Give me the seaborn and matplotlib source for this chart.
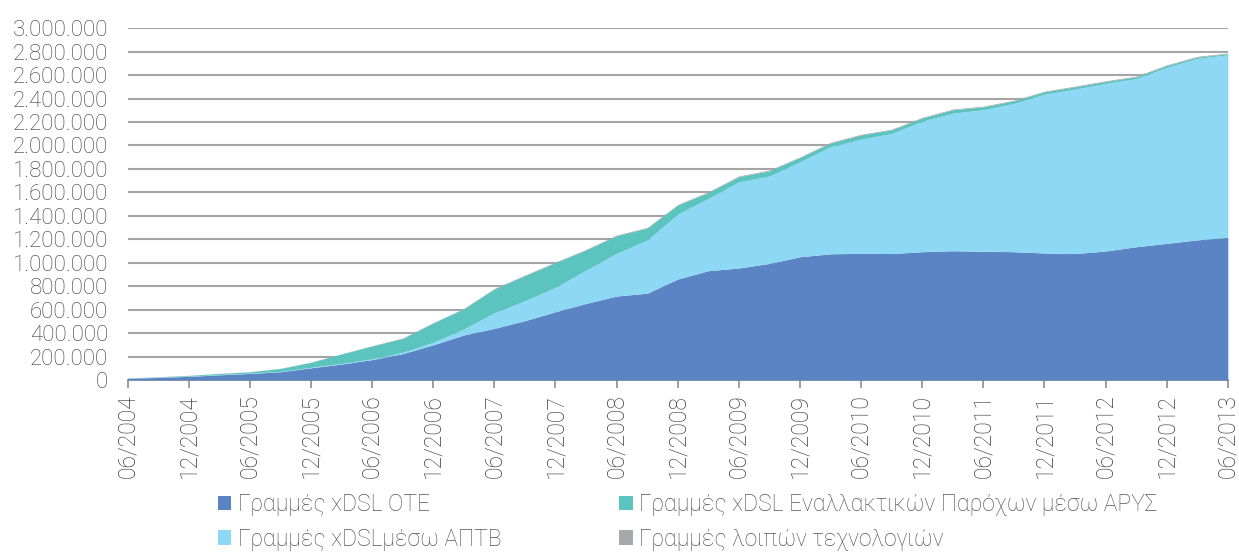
import numpy as np
import pandas as pd
import matplotlib
matplotlib.use("Agg")
import matplotlib.pyplot as plt
import seaborn as sns
from matplotlib.ticker import FuncFormatter

# quarterly observations 06/2004 .. 06/2013
periods = ["06/2004", "09/2004", "12/2004", "03/2005", "06/2005", "09/2005",
           "12/2005", "03/2006", "06/2006", "09/2006", "12/2006", "03/2007",
           "06/2007", "09/2007", "12/2007", "03/2008", "06/2008", "09/2008",
           "12/2008", "03/2009", "06/2009", "09/2009", "12/2009", "03/2010",
           "06/2010", "09/2010", "12/2010", "03/2011", "06/2011", "09/2011",
           "12/2011", "03/2012", "06/2012", "09/2012", "12/2012", "03/2013",
           "06/2013"]

# values in thousands of lines
ote = [14, 22, 31, 44, 56, 70, 104, 136, 174, 225, 300, 384, 440, 506, 582,
       653, 716, 740, 861, 932, 955, 994, 1051, 1076, 1080, 1078, 1094, 1102,
       1098, 1094, 1083, 1078, 1100, 1136, 1165, 1195, 1216]
aptb = [1, 2, 2, 3, 3, 3, 4, 5, 6, 11, 22, 51, 134, 170, 208, 284, 364, 453,
        554, 616, 735, 745, 810, 913, 974, 1024, 1112, 1173, 1207, 1264, 1354,
        1402, 1428, 1434, 1500, 1547, 1556]
arys = [2, 3, 6, 9, 11, 25, 43, 81, 110, 119, 165, 172, 203, 215, 211, 172,
        151, 103, 77, 51, 44, 45, 36, 32, 35, 31, 28, 29, 24, 22, 20, 20, 17,
        15, 16, 12, 10]
other = [1, 1, 1, 1, 1, 2, 2, 2, 3, 3, 3, 4, 4, 4, 5, 5, 5, 5, 5, 6, 6, 6, 6,
         6, 6, 6, 6, 6, 6, 6, 6, 6, 6, 6, 6, 6, 6]

labels = ["Γραμμές xDSL OTE",
          "Γραμμές xDSLμέσω ΑΠΤΒ",
          "Γραμμές xDSL Εναλλακτικών Παρόχων μέσω ΑΡΥΣ",
          "Γραμμές λοιπών τεχνολογιών"]
colors = ["#5B84C4", "#8DD8F5", "#5CC4BF", "#A7A8AB"]

df = pd.DataFrame({labels[0]: ote, labels[1]: aptb,
                   labels[2]: arys, labels[3]: other}, index=periods) * 1000

sns.set_theme(style="white")
plt.rcParams["font.family"] = ["Roboto", "DejaVu Sans"]

fig = plt.figure(figsize=(12.39, 5.52), dpi=100)
ax = fig.add_axes([0.103, 0.3116, 0.888, 0.6374])

x = np.arange(len(df))
ax.stackplot(x, [df[c].values for c in labels], colors=colors,
             labels=labels, linewidth=0, zorder=3)

ax.set_xlim(0, len(df) - 1)
ax.set_ylim(0, 3000000)
ax.set_yticks(np.arange(0, 3000001, 200000))
ax.yaxis.set_major_formatter(
    FuncFormatter(lambda v, p: f"{int(v):,}".replace(",", ".")))
ax.grid(axis="y", color="#A5A5A5", linewidth=1.5, zorder=0)
ax.grid(axis="x", visible=False)

tick_idx = x[::2]
ax.set_xticks(tick_idx)
ax.set_xticklabels([periods[i] for i in tick_idx], rotation=90)
ax.tick_params(axis="x", direction="out", length=6, width=1.2,
               color="#8C8C8C", labelsize=16.5, labelcolor="#3A3A3A", pad=4,
               bottom=True)
ax.tick_params(axis="y", length=0, labelsize=16, labelcolor="#3A3A3A", pad=14)
for lab in ax.get_xticklabels() + ax.get_yticklabels():
    lab.set_fontweight("light")

for s in ["top", "right", "left"]:
    ax.spines[s].set_visible(False)
ax.spines["bottom"].set_color("#8C8C8C")
ax.spines["bottom"].set_linewidth(1.2)

handles, labs = ax.get_legend_handles_labels()
leg = fig.legend(handles, labs,
                 loc="upper center", bbox_to_anchor=(0.555, 0.123), ncol=2,
                 frameon=False, fontsize=16.5, handlelength=0.6,
                 handleheight=0.6, handletextpad=0.3, columnspacing=5.1,
                 labelspacing=0.5, borderaxespad=0)
for t in leg.get_texts():
    t.set_color("#555555")
    t.set_fontweight("light")

fig.savefig("out.png", dpi=100)
